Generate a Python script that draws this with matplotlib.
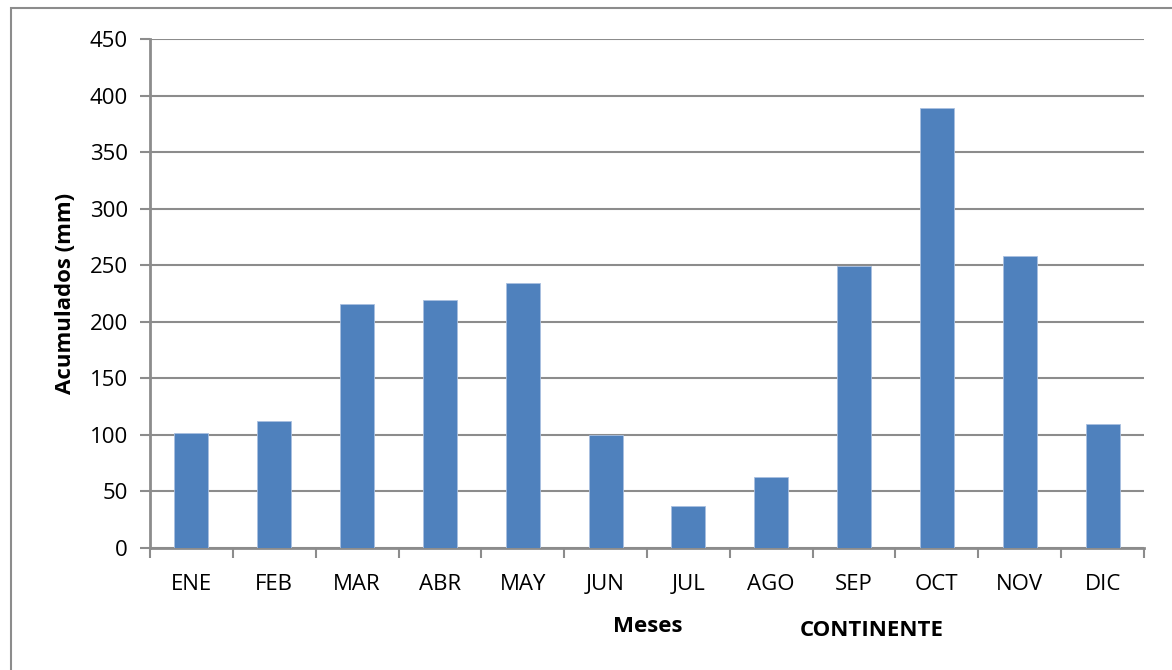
import matplotlib.pyplot as plt
from matplotlib.patches import Rectangle

meses = ["ENE", "FEB", "MAR", "ABR", "MAY", "JUN", "JUL", "AGO", "SEP", "OCT", "NOV", "DIC"]
acumulados = [102, 112, 216, 219, 234, 100, 37, 63, 249, 389, 258, 110]
y_ticks = [0, 50, 100, 150, 200, 250, 300, 350, 400, 450]

plt.rcParams['font.family'] = ['Open Sans', 'DejaVu Sans']

fig = plt.figure(figsize=(11.72, 6.7), dpi=100)
W, H = 1172, 670
ax = fig.add_axes([150 / W, 1 - 548 / H, (1144 - 150) / W, (548 - 39) / H])

# outer chart frame
fig.patches.append(Rectangle((11 / W, -0.1), 1.2, 1 - 8 / H + 0.1, transform=fig.transFigure,
                             fill=False, edgecolor="#8c8c8c", linewidth=1.5))

xs = list(range(len(meses)))
ax.bar(xs, acumulados, width=0.41, color="#4f81bd", edgecolor="#a9c0e0", linewidth=0.6, zorder=3)

ax.set_xlim(-0.5, len(meses) - 0.5)
ax.set_ylim(0, 450)
ax.set_yticks(y_ticks)
ax.set_yticklabels([str(v) for v in y_ticks], fontsize=16)
ax.yaxis.grid(True, color="#8c8c8c", linewidth=1.5, zorder=0)

ax.set_xticks([x - 0.5 for x in xs] + [len(meses) - 0.5])
ax.set_xticklabels([])
ax.set_xticks(xs, minor=True)
ax.set_xticklabels(meses, minor=True, fontsize=16)
ax.tick_params(axis="x", which="major", length=7, width=1.5, color="#8c8c8c", direction="out")
ax.tick_params(axis="x", which="minor", length=0, pad=19)
ax.tick_params(axis="y", length=7, width=1.5, color="#8c8c8c", pad=9)

for s in ["top", "right"]:
    ax.spines[s].set_visible(False)
for s in ["left", "bottom"]:
    ax.spines[s].set_color("#8c8c8c")
    ax.spines[s].set_linewidth(2)

ax.set_ylabel("Acumulados (mm)", fontsize=16, fontweight="bold", labelpad=10)
fig.text(648 / W, 1 - 627 / H, "Meses", fontsize=16, fontweight="bold", ha="center", va="center")
fig.text(872 / W, 1 - 631 / H, "CONTINENTE", fontsize=16, fontweight="bold", ha="center", va="center")

fig.savefig("out.png", dpi=100)
